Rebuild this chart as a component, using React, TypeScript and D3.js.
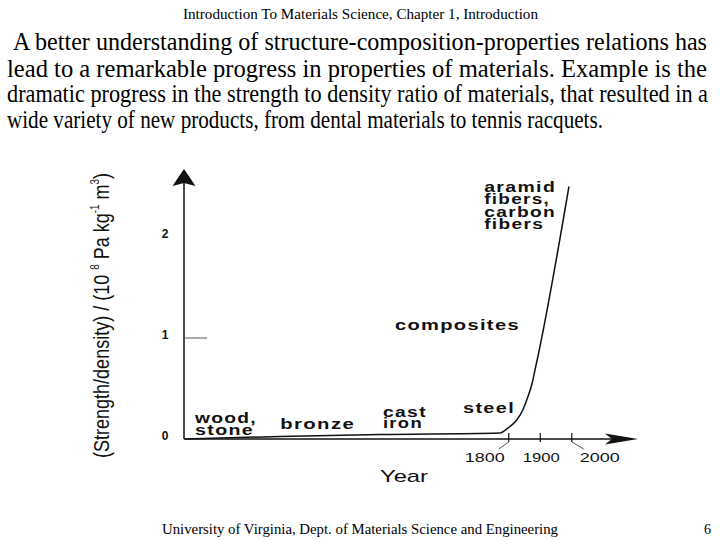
import React from "react";
import * as d3 from "d3";

const headerText = "Introduction To Materials Science, Chapter 1, Introduction";
const paragraphLines = [
  "A better understanding of structure-composition-properties relations has",
  "lead to a remarkable progress in properties of materials. Example is the",
  "dramatic progress in the strength to density ratio of materials, that resulted in a",
  "wide variety of new products, from dental materials to tennis racquets.",
];
const footerText = "University of Virginia, Dept. of Materials Science and Engineering";
const pageNumber = "6";

// strength/density curve: year vs 10^8 Pa kg^-1 m^3
const years = [773, 1074, 1392, 1772, 1798, 1826, 1845, 1861, 1874, 1883, 1890, 1991];
const ratios = [0.0, 0.025, 0.045, 0.06, 0.11, 0.19, 0.29, 0.42, 0.55, 0.68, 0.78, 2.5];

const yTicks = [0, 1, 2];
const yTickMarks = [1];
const xTicks = [1800, 1900, 2000];

// material eras, anchored in data space (year, ratio) at the first line's baseline
const materialLabels = [
  ["wood,", "stone"],
  ["bronze"],
  ["cast", "iron"],
  ["steel"],
  ["composites"],
  ["aramid", "fibers,", "carbon", "fibers"],
];
const labelYears = [805, 1075, 1401, 1655, 1439, 1722];
const labelRatios = [0.158, 0.099, 0.218, 0.257, 1.079, 2.446];

// layout / style
const W = 720;
const H = 540;
const plot = { left: 184, right: 638, top: 169, bottom: 439 };
const labelWidths = [[62, 59], [75], [44, 40], [52], [125], [72, 66, 72, 60]];
const labelSizes = [14.5, 14.5, 14, 14.5, 15, 14];
const labelLineHeights = [12, 12, 11.5, 12, 12, 12.4];
const paraX = [13, 7, 7, 7];
const paraW = [694, 700, 701, 596];
const paraBase = [50, 77, 102, 128];
const xTickLabelShift = [-24, 1, 28];
const xTickLabelWidth = [40, 37, 40];
const ink = "#111";
const sans = "'Liberation Sans', Arial, Helvetica, sans-serif";
const serif = "'Liberation Serif', 'Times New Roman', serif";

const App: React.FC = () => {
  const x = d3.scaleLinear().domain([770, 2210]).range([plot.left, plot.right]);
  const y = d3.scaleLinear().domain([0, 2]).range([plot.bottom, 237]);

  const points = years.map((yr, i) => [yr, ratios[i]] as [number, number]);
  const line = d3
    .line<[number, number]>()
    .x((d) => x(d[0]))
    .y((d) => y(d[1]))
    .curve(d3.curveMonotoneX);

  const ax = plot.left;
  const ay = plot.bottom;

  return (
    <svg
      width={W}
      height={H}
      viewBox={`0 0 ${W} ${H}`}
      style={{ position: "absolute", left: 0, top: 0, background: "#fff" }}
    >
      <rect width={W} height={H} fill="#fff" />

      {/* slide text */}
      <text
        x={183}
        y={19}
        fontFamily={serif}
        fontSize={14}
        textLength={355}
        lengthAdjust="spacingAndGlyphs"
        fill="#000"
      >
        {headerText}
      </text>
      {paragraphLines.map((t, i) => (
        <text
          key={i}
          x={paraX[i]}
          y={paraBase[i]}
          fontFamily={serif}
          fontSize={25}
          textLength={paraW[i]}
          lengthAdjust="spacingAndGlyphs"
          fill="#000"
        >
          {t}
        </text>
      ))}
      <text
        x={162}
        y={534}
        fontFamily={serif}
        fontSize={15}
        textLength={396}
        lengthAdjust="spacingAndGlyphs"
        fill="#000"
      >
        {footerText}
      </text>
      <text x={704} y={534} fontFamily={serif} fontSize={14} fill="#000">
        {pageNumber}
      </text>

      {/* axes */}
      <line x1={ax} y1={ay} x2={ax} y2={plot.top + 12} stroke={ink} strokeWidth={1.5} />
      <path
        d={`M${ax},${plot.top} L${ax + 11.5},${plot.top + 17} L${ax},${plot.top + 14} L${ax - 11.5},${plot.top + 17} Z`}
        fill={ink}
      />
      <line x1={ax} y1={ay} x2={plot.right - 20} y2={ay} stroke={ink} strokeWidth={1.5} />
      <path
        d={`M${plot.right},${ay} L${plot.right - 33},${ay - 5.5} L${plot.right - 26},${ay} L${plot.right - 33},${ay + 5.5} Z`}
        fill={ink}
      />

      {/* y ticks */}
      {yTickMarks.map((v) => (
        <line key={v} x1={ax} x2={ax + 23} y1={y(v)} y2={y(v)} stroke="#555" strokeWidth={1} />
      ))}
      {yTicks.map((v) => (
        <text
          key={v}
          x={ax - 19}
          y={y(v) - 2}
          dominantBaseline="middle"
          textAnchor="middle"
          fontFamily={sans}
          fontWeight="bold"
          fontSize={12}
          fill={ink}
        >
          {v}
        </text>
      ))}

      {/* x ticks */}
      {xTicks.map((t, i) => (
        <g key={t}>
          <line x1={x(t)} x2={x(t)} y1={ay - 6} y2={ay + 3} stroke={ink} strokeWidth={1.2} />
          {xTickLabelShift[i] !== 1 && (
            <line
              x1={x(t)}
              y1={ay + 3}
              x2={x(t) + (xTickLabelShift[i] < 0 ? -10 : 12)}
              y2={ay + 10}
              stroke="#444"
              strokeWidth={0.9}
            />
          )}
          <text
            x={x(t) + xTickLabelShift[i] - xTickLabelWidth[i] / 2}
            y={ay + 23}
            fontFamily={sans}
            fontSize={13.5}
            textLength={xTickLabelWidth[i]}
            lengthAdjust="spacingAndGlyphs"
            fill={ink}
          >
            {t}
          </text>
        </g>
      ))}

      <text
        x={380}
        y={482}
        fontFamily={sans}
        fontSize={17}
        textLength={48}
        lengthAdjust="spacingAndGlyphs"
        fill={ink}
      >
        Year
      </text>

      <text
        transform="translate(109, 315.5) rotate(-90)"
        textAnchor="middle"
        fontFamily={"'Liberation Sans Narrow', 'Arial Narrow', " + sans}
        fontSize={22}
        textLength={285}
        lengthAdjust="spacingAndGlyphs"
        fill={ink}
      >
        (Strength/density) / (10{" "}
        <tspan fontSize={12} dy={-10}>8</tspan>
        <tspan dy={10}> Pa kg</tspan>
        <tspan fontSize={12} dy={-10}>-1</tspan>
        <tspan dy={10}> m</tspan>
        <tspan fontSize={12} dy={-10}>3</tspan>
        <tspan dy={10}>)</tspan>
      </text>

      {/* curve */}
      <path d={line(points) || ""} fill="none" stroke={ink} strokeWidth={1.5} />

      {/* material labels */}
      {materialLabels.map((lines, i) => (
        <g key={i}>
          {lines.map((t, j) => (
            <text
              key={j}
              x={x(labelYears[i])}
              y={y(labelRatios[i]) + j * labelLineHeights[i]}
              fontFamily={sans}
              fontWeight="bold"
              fontSize={labelSizes[i]}
              letterSpacing={1}
              textLength={labelWidths[i][j]}
              lengthAdjust="spacingAndGlyphs"
              fill={ink}
            >
              {t}
            </text>
          ))}
        </g>
      ))}
    </svg>
  );
};

export default App;
